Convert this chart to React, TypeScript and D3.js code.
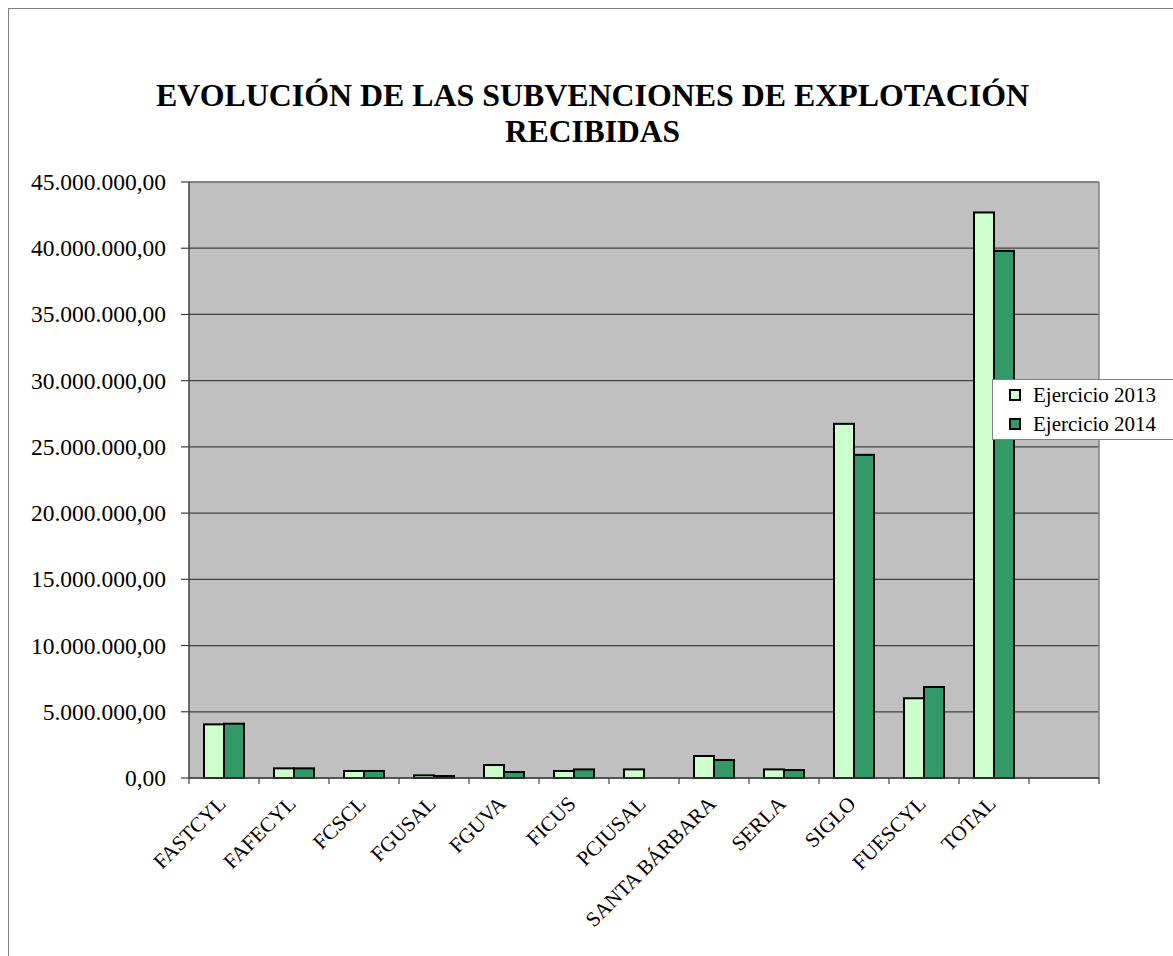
import React from "react";
import * as d3 from "d3";

const categories = [
  "FASTCYL", "FAFECYL", "FCSCL", "FGUSAL", "FGUVA", "FICUS", "PCIUSAL",
  "SANTA BÁRBARA", "SERLA", "SIGLO", "FUESCYL", "TOTAL", "",
];
const seriesNames = ["Ejercicio 2013", "Ejercicio 2014"];
const values2013 = [4050000, 730000, 530000, 200000, 980000, 530000, 650000, 1660000, 650000, 26740000, 6020000, 42700000, null];
const values2014 = [4100000, 730000, 530000, 150000, 450000, 650000, 0, 1360000, 600000, 24400000, 6870000, 39800000, null];
const yTicks = [0, 5000000, 10000000, 15000000, 20000000, 25000000, 30000000, 35000000, 40000000, 45000000];
const titleLines = ["EVOLUCIÓN DE LAS SUBVENCIONES DE EXPLOTACIÓN", "RECIBIDAS"];
const colors = ["#CCFFCC", "#339966"];

const fmt = (v: number) => {
  const s = Math.round(v).toString().replace(/\B(?=(\d{3})+(?!\d))/g, ".");
  return s + ",00";
};

const SERIF = "Liberation Serif";

export default function App() {
  const W = 1173, H = 956;
  const left = 189, right = 1099, top = 182, bottom = 778;
  const x = d3.scaleBand<number>().domain(d3.range(categories.length)).range([left, right]).paddingInner(0).paddingOuter(0);
  const y = d3.scaleLinear().domain([0, 45000000]).range([bottom, top]);
  const step = x.bandwidth();
  const barW = step / 3.5;
  const series = [values2013, values2014];
  const titleLens = [873, 175];

  return (
    <svg width={W} height={H} style={{ position: "absolute", left: 0, top: 0 }}>
      <rect x={0} y={0} width={W} height={H} fill="#fff" />
      <rect x={8.5} y={8.5} width={1300} height={1100} fill="#fff" stroke="#808080" strokeWidth={1} />
      {titleLines.map((t, i) => (
        <text key={i} x={592.5} y={106 + i * 36} textAnchor="middle" fontSize={32} fontWeight="bold"
          fill="#000" style={{ fontFamily: SERIF }} textLength={titleLens[i]} lengthAdjust="spacingAndGlyphs">{t}</text>
      ))}
      <rect x={left} y={top} width={right - left} height={bottom - top} fill="#C0C0C0" />
      {yTicks.map((t) => (
        <line key={"g" + t} x1={left} x2={right} y1={y(t)} y2={y(t)} stroke="#404040" strokeWidth={1.2} />
      ))}
      <line x1={left} x2={right} y1={top} y2={top} stroke="#808080" strokeWidth={1.5} />
      <line x1={right} x2={right} y1={top} y2={bottom} stroke="#808080" strokeWidth={1.5} />
      {series.map((vals, si) =>
        vals.map((v, i) => {
          if (v === null || v <= 0) return null;
          const x0 = (x(i) as number) + (step - 2 * barW) / 2 + si * barW;
          return (
            <rect key={si + "-" + i} x={x0} y={y(v)} width={barW} height={bottom - y(v)}
              fill={colors[si]} stroke="#000" strokeWidth={2} />
          );
        })
      )}
      <line x1={left} x2={left} y1={top} y2={bottom} stroke="#404040" strokeWidth={1.5} />
      <line x1={left} x2={right} y1={bottom} y2={bottom} stroke="#404040" strokeWidth={1.5} />
      {yTicks.map((t) => (
        <g key={"t" + t}>
          <line x1={left - 8} x2={left} y1={y(t)} y2={y(t)} stroke="#404040" strokeWidth={1.2} />
          <text x={166} y={y(t)} dy="0.34em" textAnchor="end" fontSize={23.5} fill="#000" style={{ fontFamily: SERIF }}>{fmt(t)}</text>
        </g>
      ))}
      {d3.range(categories.length + 1).map((i) => (
        <line key={"xt" + i} x1={left + i * step} x2={left + i * step} y1={bottom} y2={bottom + 6} stroke="#404040" strokeWidth={1.2} />
      ))}
      {categories.map((c, i) => {
        const cx = (x(i) as number) + step / 2 + 3;
        const cy = 805;
        return (
          <text key={"xl" + i} x={cx} y={cy} textAnchor="end" fontSize={21} fill="#000" style={{ fontFamily: SERIF }}
            transform={`rotate(-45, ${cx}, ${cy})`}>{c}</text>
        );
      })}
      <rect x={992.5} y={379.5} width={200} height={60} fill="#fff" stroke="#808080" strokeWidth={1} />
      {seriesNames.map((n, i) => (
        <g key={"lg" + i}>
          <rect x={1010} y={390 + i * 29} width={10} height={10} fill={colors[i]} stroke="#000" strokeWidth={2} />
          <text x={1033} y={402 + i * 29} fontSize={21} fill="#000" style={{ fontFamily: SERIF }}>{n}</text>
        </g>
      ))}
    </svg>
  );
}
